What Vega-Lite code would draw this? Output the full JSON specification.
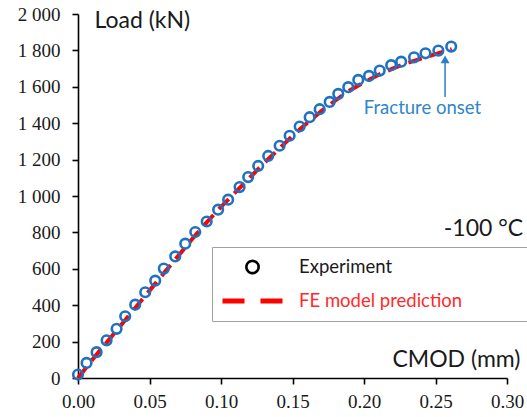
{
  "$schema": "https://vega.github.io/schema/vega-lite/v6.json",
  "width": 429,
  "height": 364,
  "autosize": {"type": "none"},
  "padding": {"left": 78, "top": 14, "right": 20, "bottom": 39},
  "background": "white",
  "config": {
    "view": {"stroke": null},
    "axis": {
      "grid": false,
      "domainColor": "black",
      "domainWidth": 1.6,
      "tickColor": "black",
      "tickWidth": 1.6,
      "tickSize": 6,
      "labelFont": "Liberation Serif",
      "labelFontSize": 19,
      "labelColor": "#1a1a1a",
      "labelFlush": false,
      "labelOverlap": false,
      "titleFont": "Lato",
      "titleFontSize": 23,
      "titleFontWeight": "normal",
      "titleColor": "#1a1a1a"
    }
  },
  "datasets": {
    "curves": [
      {"series": "Experiment", "cmod": 0.000, "load": 19},
      {"series": "Experiment", "cmod": 0.006, "load": 83},
      {"series": "Experiment", "cmod": 0.013, "load": 142},
      {"series": "Experiment", "cmod": 0.020, "load": 207},
      {"series": "Experiment", "cmod": 0.027, "load": 270},
      {"series": "Experiment", "cmod": 0.033, "load": 339},
      {"series": "Experiment", "cmod": 0.040, "load": 403},
      {"series": "Experiment", "cmod": 0.047, "load": 471},
      {"series": "Experiment", "cmod": 0.054, "load": 535},
      {"series": "Experiment", "cmod": 0.060, "load": 601},
      {"series": "Experiment", "cmod": 0.068, "load": 668},
      {"series": "Experiment", "cmod": 0.075, "load": 738},
      {"series": "Experiment", "cmod": 0.082, "load": 802},
      {"series": "Experiment", "cmod": 0.090, "load": 860},
      {"series": "Experiment", "cmod": 0.098, "load": 925},
      {"series": "Experiment", "cmod": 0.105, "load": 980},
      {"series": "Experiment", "cmod": 0.113, "load": 1049},
      {"series": "Experiment", "cmod": 0.119, "load": 1104},
      {"series": "Experiment", "cmod": 0.126, "load": 1165},
      {"series": "Experiment", "cmod": 0.133, "load": 1220},
      {"series": "Experiment", "cmod": 0.141, "load": 1276},
      {"series": "Experiment", "cmod": 0.148, "load": 1331},
      {"series": "Experiment", "cmod": 0.155, "load": 1382},
      {"series": "Experiment", "cmod": 0.162, "load": 1433},
      {"series": "Experiment", "cmod": 0.169, "load": 1477},
      {"series": "Experiment", "cmod": 0.176, "load": 1517},
      {"series": "Experiment", "cmod": 0.182, "load": 1561},
      {"series": "Experiment", "cmod": 0.189, "load": 1598},
      {"series": "Experiment", "cmod": 0.196, "load": 1638},
      {"series": "Experiment", "cmod": 0.2035, "load": 1660},
      {"series": "Experiment", "cmod": 0.211, "load": 1689},
      {"series": "Experiment", "cmod": 0.219, "load": 1719},
      {"series": "Experiment", "cmod": 0.226, "load": 1738},
      {"series": "Experiment", "cmod": 0.235, "load": 1762},
      {"series": "Experiment", "cmod": 0.243, "load": 1784},
      {"series": "Experiment", "cmod": 0.252, "load": 1799},
      {"series": "Experiment", "cmod": 0.261, "load": 1821},
      {"series": "FE model prediction", "cmod": 0.000, "load": 0},
      {"series": "FE model prediction", "cmod": 0.010, "load": 100},
      {"series": "FE model prediction", "cmod": 0.020, "load": 195},
      {"series": "FE model prediction", "cmod": 0.030, "load": 290},
      {"series": "FE model prediction", "cmod": 0.040, "load": 385},
      {"series": "FE model prediction", "cmod": 0.050, "load": 480},
      {"series": "FE model prediction", "cmod": 0.060, "load": 575},
      {"series": "FE model prediction", "cmod": 0.070, "load": 670},
      {"series": "FE model prediction", "cmod": 0.080, "load": 765},
      {"series": "FE model prediction", "cmod": 0.090, "load": 855},
      {"series": "FE model prediction", "cmod": 0.100, "load": 940},
      {"series": "FE model prediction", "cmod": 0.110, "load": 1020},
      {"series": "FE model prediction", "cmod": 0.120, "load": 1100},
      {"series": "FE model prediction", "cmod": 0.130, "load": 1180},
      {"series": "FE model prediction", "cmod": 0.140, "load": 1255},
      {"series": "FE model prediction", "cmod": 0.150, "load": 1330},
      {"series": "FE model prediction", "cmod": 0.160, "load": 1400},
      {"series": "FE model prediction", "cmod": 0.170, "load": 1465},
      {"series": "FE model prediction", "cmod": 0.180, "load": 1525},
      {"series": "FE model prediction", "cmod": 0.190, "load": 1580},
      {"series": "FE model prediction", "cmod": 0.200, "load": 1625},
      {"series": "FE model prediction", "cmod": 0.210, "load": 1665},
      {"series": "FE model prediction", "cmod": 0.220, "load": 1700},
      {"series": "FE model prediction", "cmod": 0.230, "load": 1730},
      {"series": "FE model prediction", "cmod": 0.240, "load": 1755},
      {"series": "FE model prediction", "cmod": 0.250, "load": 1780},
      {"series": "FE model prediction", "cmod": 0.2614, "load": 1807}
    ],
    "arrow": [
      {"cmod": 0.2567, "load": 1544, "load2": 1740}
    ]
  },
  "encoding": {
    "x": {
      "field": "cmod",
      "type": "quantitative",
      "scale": {"domain": [0, 0.3], "nice": false, "zero": false},
      "axis": {
        "values": [0, 0.05, 0.1, 0.15, 0.2, 0.25, 0.3],
        "format": ".2f",
        "labelPadding": 8,
        "title": "CMOD (mm)",
        "titleAlign": "right",
        "titleBaseline": "alphabetic",
        "titleX": 442,
        "titleY": -12
      }
    },
    "y": {
      "field": "load",
      "type": "quantitative",
      "scale": {"domain": [0, 2000], "nice": false},
      "axis": {
        "values": [0, 200, 400, 600, 800, 1000, 1200, 1400, 1600, 1800, 2000],
        "labelExpr": "datum.value >= 1000 ? floor(datum.value / 1000) + ' ' + format(datum.value % 1000, '03d') : format(datum.value, 'd')",
        "labelPadding": 12,
        "title": "Load (kN)",
        "titleAngle": 0,
        "titleAlign": "left",
        "titleBaseline": "alphabetic",
        "titleX": 16,
        "titleY": 13
      }
    }
  },
  "layer": [
    {
      "data": {"name": "curves"},
      "transform": [{"filter": "datum.series === 'FE model prediction'"}],
      "mark": {"type": "line", "strokeDash": [14, 8], "strokeWidth": 4},
      "encoding": {
        "stroke": {
          "field": "series",
          "type": "nominal",
          "scale": {"domain": ["Experiment", "FE model prediction"], "range": ["black", "#FF0000"]},
          "legend": {
            "title": null,
            "orient": "none",
            "legendX": 134,
            "legendY": 233,
            "padding": 8,
            "strokeColor": "#A0A0A0",
            "fillColor": "white",
            "clipHeight": 24,
            "rowPadding": 10,
            "labelOffset": 14,
            "labelFont": "Lato",
            "labelFontSize": 18.5,
            "labelLimit": 500,
            "encode": {
              "symbols": {
                "update": {
                  "shape": {"signal": "datum.value === 'Experiment' ? 'circle' : 'stroke'"},
                  "size": {"signal": "(datum.value === 'Experiment' ? 150 : 3600)"},
                  "fill": {"value": "transparent"},
                  "strokeWidth": {"signal": "(datum.value === 'Experiment' ? 2.6 : 5)"},
                  "strokeDash": {"signal": "datum.value === 'Experiment' ? [1, 0] : [22, 16]"},
                  "opacity": {"value": 1}
                }
              },
              "labels": {
                "update": {
                  "fill": {"signal": "datum.value === 'Experiment' ? '#1a1a1a' : '#FF2A2A'"}
                }
              },
              "entries": {
                "update": {
                  "width": {"value": 299}
                }
              }
            }
          }
        }
      }
    },
    {
      "data": {"name": "curves"},
      "transform": [{"filter": "datum.series === 'Experiment'"}],
      "mark": {"type": "point", "shape": "circle", "filled": false, "size": 92, "strokeWidth": 2.6, "opacity": 1, "stroke": "#1E72C0"}
    },
    {
      "data": {"name": "arrow"},
      "mark": {"type": "rule", "color": "#2F7FC6", "strokeWidth": 1.5},
      "encoding": {"y2": {"field": "load2"}}
    },
    {
      "data": {"name": "arrow"},
      "mark": {"type": "point", "shape": "triangle-up", "filled": true, "color": "#2F7FC6", "size": 80, "opacity": 1, "yOffset": -2},
      "encoding": {"y": {"field": "load2", "type": "quantitative"}}
    },
    {
      "data": {"values": [{"cmod": 0.2409, "load": 1451, "label": "Fracture onset"}]},
      "mark": {"type": "text", "font": "Lato", "fontSize": 18.5, "color": "#2F86C8", "align": "center", "baseline": "alphabetic"},
      "encoding": {"text": {"field": "label"}}
    },
    {
      "data": {"values": [{"cmod": 0.3113, "load": 782, "label": "-100 °C"}]},
      "mark": {"type": "text", "font": "Lato", "fontSize": 23, "color": "#1a1a1a", "align": "right", "baseline": "alphabetic"},
      "encoding": {"text": {"field": "label"}}
    }
  ]
}
